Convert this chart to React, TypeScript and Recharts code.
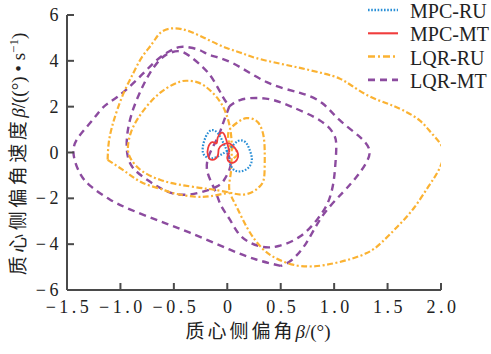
import React from "react";
import { LineChart, Line, XAxis, YAxis } from "recharts";

// ---- axis ticks ----
const xTicks = [-1.5, -1, -0.5, 0, 0.5, 1, 1.5, 2];
const xTickLabels = ["−1.5", "−1.0", "−0.5", "0", "0.5", "1.0", "1.5", "2.0"];
const yTicks = [-6, -4, -2, 0, 2, 4, 6];
const yTickLabels = ["−6", "−4", "−2", "0", "2", "4", "6"];

// ---- series names ----
const seriesNames = ["MPC-RU", "MPC-MT", "LQR-RU", "LQR-MT"];

// ---- MPC-RU (β, β̇) ----
const mpcRu: [number, number][] = [
  [0.0, 0.05], [-0.04, 0.45], [-0.09, 0.85], [-0.15, 0.97], [-0.2, 0.7], [-0.23, 0.2],
  [-0.21, -0.15], [-0.14, -0.25], [-0.06, -0.1], [0.03, 0.2], [0.1, 0.5], [0.17, 0.45],
  [0.21, 0.1], [0.23, -0.3], [0.2, -0.65], [0.13, -0.82], [0.06, -0.75], [0.02, -0.4], [0.0, 0.05],
];

// ---- MPC-MT ----
const mpcMt: [number, number][] = [
  [0.02, 0.0], [0.0, 0.4], [-0.03, 0.8], [-0.06, 0.85], [-0.09, 0.65], [-0.1, 0.4],
  [-0.14, 0.45], [-0.18, 0.2], [-0.18, -0.15], [-0.14, -0.32], [-0.09, -0.15], [-0.08, 0.15],
  [-0.04, 0.35], [0.02, 0.4], [0.07, 0.2], [0.1, -0.05], [0.09, -0.32], [0.04, -0.45],
  [0.0, -0.25], [0.02, 0.0],
];

// ---- LQR-RU (two pieces split at a corner) ----
const lqrRuA: [number, number][] = [
  [0.06, -0.25], [0.1, -0.05], [0.07, 0.12], [0.03, 0.25], [0.01, 0.6], [0.02, 0.98],
  [0.1, 1.33], [0.18, 1.5], [0.26, 1.42], [0.31, 1.15], [0.34, 0.7], [0.35, 0.1],
  [0.35, -0.6], [0.34, -1.2], [0.3, -1.5], [0.24, -1.71], [0.14, -1.84], [0.02, -1.75],
  [-0.13, -1.62], [-0.26, -1.54], [-0.45, -1.4], [-0.63, -1.19], [-0.8, -0.8], [-0.9, -0.3],
  [-0.93, 0.2], [-0.9, 0.9], [-0.82, 1.6], [-0.7, 2.3], [-0.57, 2.8], [-0.45, 3.08],
  [-0.37, 3.13], [-0.27, 3.05], [-0.17, 2.75], [-0.08, 2.3], [-0.02, 1.8], [0.02, 1.2],
  [0.04, 0.5], [0.04, -0.3], [0.03, -1.0], [0.02, -1.65], [0.09, -2.4], [0.2, -3.4],
  [0.33, -4.2], [0.45, -4.6], [0.6, -4.88], [0.8, -4.97], [1.05, -4.78], [1.3, -4.4],
  [1.45, -3.9], [1.6, -3.2], [1.75, -2.4], [1.88, -1.5], [1.98, -0.75], [2.02, 0.1],
  [1.92, 0.8], [1.8, 1.4], [1.64, 1.85], [1.49, 2.15], [1.33, 2.45], [1.17, 2.9],
  [1.05, 3.23], [0.9, 3.45], [0.7, 3.67], [0.5, 3.87], [0.27, 4.12], [0.14, 4.33],
  [0.0, 4.55], [-0.17, 4.9], [-0.35, 5.28], [-0.5, 5.42], [-0.62, 5.25], [-0.7, 4.77],
  [-0.8, 4.15], [-0.88, 3.46], [-0.96, 2.7], [-1.03, 1.86], [-1.08, 1.1], [-1.11, 0.4],
  [-1.12, -0.32],
];
const lqrRuB: [number, number][] = [
  [-1.12, -0.32], [-0.94, -0.88], [-0.79, -1.33], [-0.63, -1.58], [-0.5, -1.78],
  [-0.3, -1.93], [-0.15, -1.9], [0.02, -1.75],
];

// ---- LQR-MT (outer loop + inner pieces) ----
const lqrMtOuter: [number, number][] = [
  [0.5, -4.95], [0.27, -4.67], [0.02, -4.23], [-0.35, -3.5], [-0.63, -3.0], [-0.9, -2.5],
  [-1.1, -2.05], [-1.27, -1.5], [-1.38, -0.9], [-1.44, 0.03], [-1.38, 0.75], [-1.26, 1.42],
  [-1.16, 1.98], [-1.03, 2.42], [-0.85, 3.16], [-0.66, 4.03], [-0.54, 4.42], [-0.45, 4.6],
  [-0.35, 4.58], [-0.25, 4.45], [-0.16, 4.25], [0.05, 3.9], [0.37, 3.07], [0.68, 2.6],
  [0.89, 2.15], [1.05, 1.42], [1.24, 0.68], [1.33, 0.1], [1.3, -0.45], [1.21, -1.06],
  [1.08, -1.75], [0.89, -2.77], [0.74, -3.94], [0.6, -4.7], [0.5, -4.95],
];
const lqrMtInnerA: [number, number][] = [
  [0.0, 0.0], [0.03, -0.4], [0.02, -0.75], [-0.03, -1.2], [-0.1, -1.49], [-0.26, -1.75],
  [-0.44, -1.84], [-0.6, -1.62], [-0.75, -1.19], [-0.89, -0.62], [-0.94, 0.12], [-0.93, 0.98],
  [-0.88, 1.9], [-0.8, 2.8], [-0.72, 3.5], [-0.63, 4.05], [-0.55, 4.32], [-0.45, 4.42],
  [-0.35, 4.2], [-0.23, 3.73], [-0.13, 3.16], [-0.04, 2.42], [0.02, 2.02],
];
const lqrMtInnerB: [number, number][] = [
  [0.02, 2.02], [-0.03, 1.4], [-0.06, 1.0], [-0.1, 0.55], [-0.16, 0.0], [-0.19, -0.75],
  [-0.12, -1.6], [-0.06, -2.3], [0.02, -2.9], [0.1, -3.5], [0.2, -3.9], [0.33, -4.12],
  [0.48, -4.08], [0.68, -3.67], [0.84, -2.93], [0.94, -2.2], [0.99, -1.4], [1.01, -0.6],
  [1.02, 0.3], [0.99, 0.85], [0.86, 1.42], [0.61, 1.98], [0.43, 2.29], [0.27, 2.38],
  [0.12, 2.29], [0.02, 2.02],
];

const toPts = (a: [number, number][]) => a.map(([x, y]) => ({ x, y }));

const BLUE = "#2a8fd6";
const RED = "#f03c3c";
const ORANGE = "#fbb232";
const PURPLE = "#8c4b9f";
const AXIS = "#4a4a4a";

const styles = [
  { stroke: BLUE, dash: "1.6 1.6", w: 2.2 },
  { stroke: RED, dash: undefined as string | undefined, w: 1.8 },
  { stroke: ORANGE, dash: "6 2.5 2 2.5", w: 2.2 },
  { stroke: PURPLE, dash: "7 5", w: 2.4 },
];

const serif = "'Liberation Serif', 'DejaVu Serif', serif";
const cjk = "'Liberation Serif', 'Noto Sans CJK SC', serif";

const XTick = (props: any) => {
  const { x, y, payload } = props;
  const i = xTicks.indexOf(payload.value);
  return (
    <g>
      <line x1={x} y1={y} x2={x} y2={y - 7} stroke={AXIS} strokeWidth={2} />
      <text x={x + 2} y={y + 23} textAnchor="middle" fontFamily={serif} fontSize={18}
        letterSpacing={3.5} fill="#222">
        {xTickLabels[i]}
      </text>
    </g>
  );
};

const YTick = (props: any) => {
  const { x, y, payload } = props;
  const i = yTicks.indexOf(payload.value);
  return (
    <g>
      <line x1={x} y1={y} x2={x + 7} y2={y} stroke={AXIS} strokeWidth={2} />
      <text x={x - 5} y={y + 6} textAnchor="end" fontFamily={serif} fontSize={18}
        letterSpacing={3.5} fill="#222">
        {yTickLabels[i]}
      </text>
    </g>
  );
};

const lineProps = (s: typeof styles[number]) => ({
  type: "natural" as const,
  dataKey: "y",
  dot: false,
  activeDot: false,
  isAnimationActive: false,
  stroke: s.stroke,
  strokeWidth: s.w,
  strokeDasharray: s.dash,
  legendType: "none" as const,
});

export default function App() {
  return (
    <div style={{ position: "absolute", left: 0, top: 0, width: 491, height: 354, background: "#fff" }}>
      <LineChart width={491} height={354} margin={{ top: 15, right: 50, left: 0, bottom: 0 }}>
        <XAxis
          type="number"
          dataKey="x"
          domain={[-1.5, 2]}
          ticks={xTicks}
          allowDataOverflow
          height={64}
          tickLine={false}
          tickSize={0}
          tickMargin={0}
          tick={<XTick />}
          axisLine={{ stroke: AXIS, strokeWidth: 2 }}
          interval={0}
        />
        <YAxis
          type="number"
          domain={[-6, 6]}
          ticks={yTicks}
          allowDataOverflow
          width={67}
          tickLine={false}
          tickSize={0}
          tickMargin={0}
          tick={<YTick />}
          axisLine={{ stroke: AXIS, strokeWidth: 2 }}
          interval={0}
        />
        <Line {...lineProps(styles[3])} data={toPts(lqrMtOuter)} name={seriesNames[3]} />
        <Line {...lineProps(styles[3])} data={toPts(lqrMtInnerA)} name={seriesNames[3] + "-a"} />
        <Line {...lineProps(styles[3])} data={toPts(lqrMtInnerB)} name={seriesNames[3] + "-b"} />
        <Line {...lineProps(styles[2])} data={toPts(lqrRuA)} name={seriesNames[2]} />
        <Line {...lineProps(styles[2])} data={toPts(lqrRuB)} name={seriesNames[2] + "-b"} />
        <Line {...lineProps(styles[0])} data={toPts(mpcRu)} name={seriesNames[0]} />
        <Line {...lineProps(styles[1])} data={toPts(mpcMt)} name={seriesNames[1]} />
      </LineChart>
      <svg width={491} height={354} style={{ position: "absolute", left: 0, top: 0, pointerEvents: "none" }}>
        {seriesNames.map((n, i) => {
          const ly = 10 + i * 23.3;
          const s = styles[i];
          return (
            <g key={n}>
              <line x1={368} x2={398} y1={ly} y2={ly} stroke={s.stroke} strokeWidth={s.w + 0.3}
                strokeDasharray={i === 2 ? "7 3 2 3" : s.dash} />
              <text x={410} y={ly + 8} fontFamily={serif} fontSize={20} fill="#222">{n}</text>
            </g>
          );
        })}
        <text x={258} y={338} textAnchor="middle" fontFamily={cjk} fontSize={19} fill="#222">
          <tspan letterSpacing={3}>质心侧偏角</tspan><tspan fontStyle="italic">β</tspan>/(°)
        </text>
        <text transform="translate(25,154) rotate(-90)" textAnchor="middle" fontFamily={cjk} fontSize={19} fill="#222">
          <tspan letterSpacing={3.5}>质心侧偏角速度</tspan><tspan fontStyle="italic">β̇</tspan>/((°) • s<tspan dy={-7} fontSize={13}>−1</tspan><tspan dy={7}>)</tspan>
        </text>
      </svg>
    </div>
  );
}
